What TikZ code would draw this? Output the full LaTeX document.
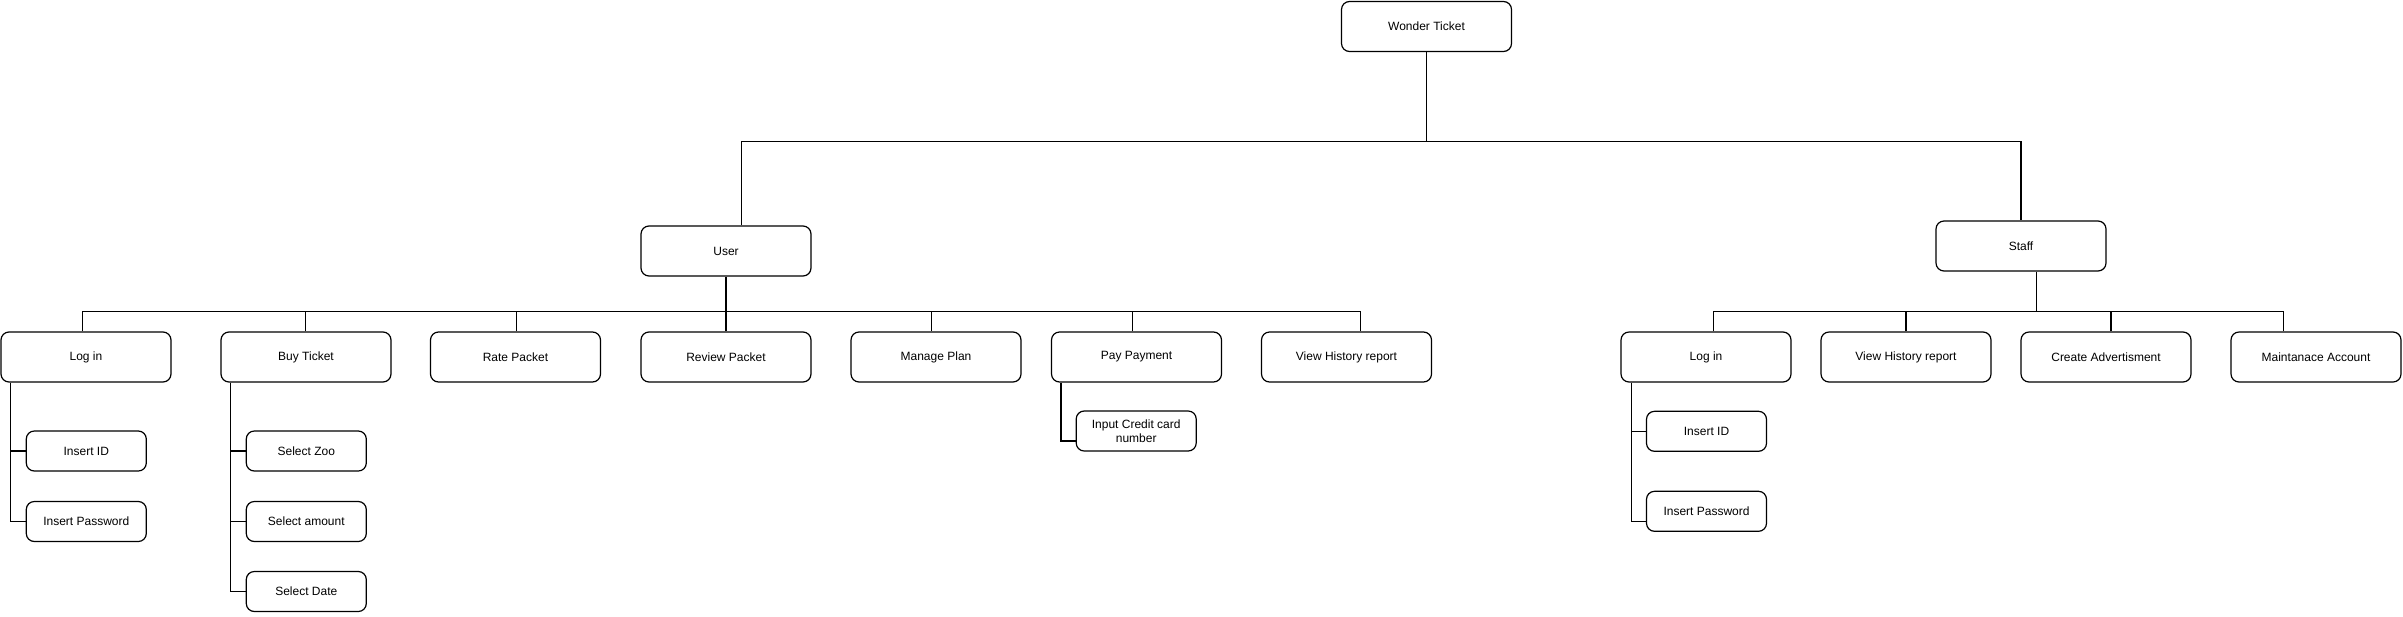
\documentclass[tikz,border=0pt]{standalone}
\usepackage{fontspec}
\setmainfont{Liberation Sans}
\begin{document}
\begin{tikzpicture}[x=0.5pt,y=-0.5pt,
  every path/.style={line width=0.6pt},
  bigbox/.style={draw, rounded corners=4pt, minimum width=85pt, minimum height=25pt, inner sep=0pt, font=\fontsize{6pt}{7pt}\selectfont, align=center},
  smallbox/.style={draw, rounded corners=4pt, minimum width=60pt, minimum height=20pt, inner sep=0pt, font=\fontsize{6pt}{7.2pt}\selectfont, align=center},
  conn/.style={draw, line width=0.6pt}]
\useasboundingbox (0,0) rectangle (2403,616);
% top
\node[bigbox] (wt) at (1426.5,26.5) {Wonder Ticket};
\node[bigbox] (user) at (726,251) {User};
\node[bigbox] (staff) at (2021,246) {Staff};
% user children
\node[bigbox] (ulogin) at (86,357) {Log in};
\node[bigbox] (ubuy) at (306,357) {Buy Ticket};
\node[bigbox] (urate) at (515.5,357) {Rate Packet};
\node[bigbox] (ureview) at (726,357) {Review Packet};
\node[bigbox] (umanage) at (936,357) {Manage Plan};
\node[bigbox] (upay) at (1136.5,357) {Pay Payment};
\node[bigbox] (uview) at (1346.5,357) {View History report};
% staff children
\node[bigbox] (slogin) at (1706,357) {Log in};
\node[bigbox] (sview) at (1906,357) {View History report};
\node[bigbox] (screate) at (2106,357) {Create Advertisment};
\node[bigbox] (smaint) at (2316,357) {Maintanace Account};
% sub boxes
\node[smallbox] (uid) at (86.3,451) {Insert ID};
\node[smallbox] (upw) at (86.3,521.5) {Insert Password};
\node[smallbox] (zoo) at (306.3,451) {Select Zoo};
\node[smallbox] (amount) at (306.3,521.5) {Select amount};
\node[smallbox] (date) at (306.3,591.5) {Select Date};
\node[smallbox] (icc) at (1136.2,431) {Input Credit card\\number};
\node[smallbox] (sid) at (1706.5,431.3) {Insert ID};
\node[smallbox] (spw) at (1706.5,511.3) {Insert Password};
% buses
\coordinate (tb) at (0,141.3);
\coordinate (ub) at (0,311.3);
% top level
\draw (wt.south) -- (wt.south |- tb);
\draw ([xshift=7.75pt]user.north) |- (tb -| staff.north) -- (staff.north);
% user bus
\draw (user.south) -- (user.south |- ub);
\draw ([xshift=-1.85pt]ulogin.north) |- ([xshift=7pt]uview.north |- ub) -- ([xshift=7pt]uview.north);
\draw ([xshift=-0.3pt]ubuy.north) -- ([xshift=-0.3pt]ubuy.north |- ub);
\draw ([xshift=0.4pt]urate.north) -- ([xshift=0.4pt]urate.north |- ub);
\draw (ureview.north) -- (ureview.north |- ub);
\draw ([xshift=-2.4pt]umanage.north) -- ([xshift=-2.4pt]umanage.north |- ub);
\draw ([xshift=-1.9pt]upay.north) -- ([xshift=-1.9pt]upay.north |- ub);
% staff bus
\draw ([xshift=7.65pt]staff.south) -- ([xshift=7.65pt]staff.south |- ub);
\draw ([xshift=3.85pt]slogin.north) |- ([xshift=-16.15pt]smaint.north |- ub) -- ([xshift=-16.15pt]smaint.north);
\draw (sview.north) -- (sview.north |- ub);
\draw ([xshift=2.5pt]screate.north) -- ([xshift=2.5pt]screate.north |- ub);
% user sub
\draw ([xshift=5pt]ulogin.south west) |- (uid.west);
\draw ([xshift=5pt]ulogin.south west) |- (upw.west);
\draw ([xshift=5pt]ubuy.south west) |- (zoo.west);
\draw ([xshift=5pt]ubuy.south west) |- (amount.west);
\draw ([xshift=5pt]ubuy.south west) |- (date.west);
\draw ([xshift=5pt]upay.south west) |- ([yshift=-5pt]icc.west);
% staff sub
\draw ([xshift=5.4pt]slogin.south west) |- (sid.west);
\draw ([xshift=5.4pt]slogin.south west) |- ([yshift=-5pt]spw.west);
\end{tikzpicture}
\end{document}
